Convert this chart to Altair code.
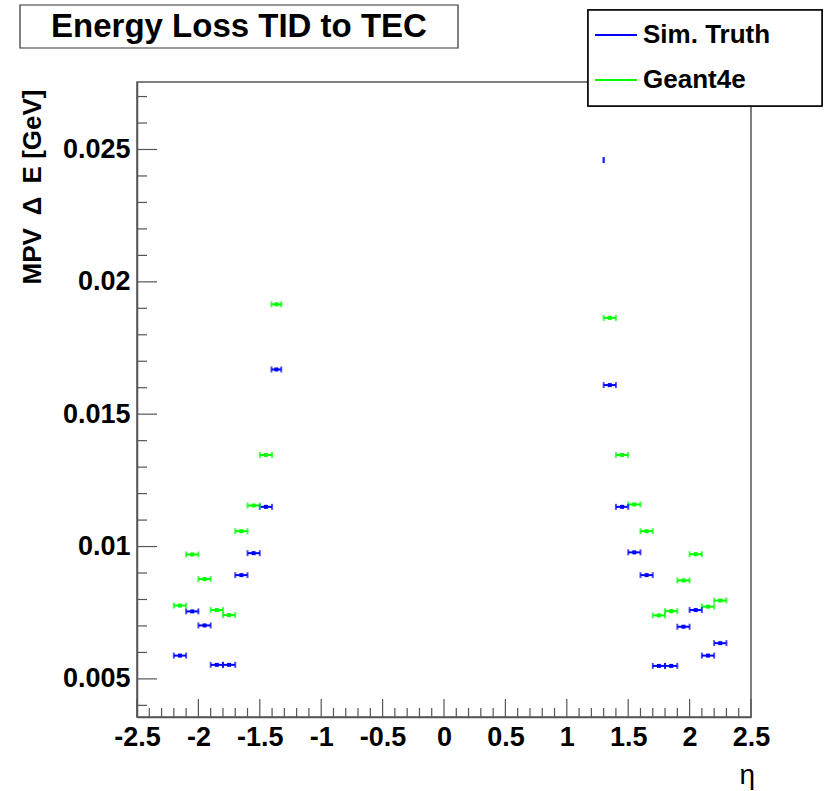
import altair as alt
import pandas as pd
import numpy as np

# ---------------- data ----------------
series_names = ["Sim. Truth", "Geant4e"]
series_colors = ["#0000ff", "#00ff00"]

sim_eta = [-2.15, -2.05, -1.95, -1.85, -1.75, -1.65, -1.55, -1.45, -1.365,
           1.30, 1.35, 1.45, 1.55, 1.65, 1.75, 1.85, 1.95, 2.05, 2.15, 2.25]
sim_xerr = [0.05, 0.05, 0.05, 0.05, 0.05, 0.05, 0.05, 0.05, 0.04,
            0.0, 0.05, 0.05, 0.05, 0.05, 0.05, 0.05, 0.05, 0.05, 0.05, 0.05]
sim_mpv = [0.00588, 0.00755, 0.00702, 0.00553, 0.00553, 0.00892, 0.00975, 0.01150, 0.01669,
           0.02460, 0.01610, 0.01150, 0.00978, 0.00892, 0.00549, 0.00549, 0.00697, 0.00760, 0.00588, 0.00635]

g4e_eta = [-2.15, -2.05, -1.95, -1.85, -1.75, -1.65, -1.55, -1.45, -1.365,
           1.35, 1.45, 1.55, 1.65, 1.75, 1.85, 1.95, 2.05, 2.15, 2.25]
g4e_xerr = [0.05, 0.05, 0.05, 0.05, 0.05, 0.05, 0.05, 0.05, 0.04,
            0.05, 0.05, 0.05, 0.05, 0.05, 0.05, 0.05, 0.05, 0.05, 0.05]
g4e_mpv = [0.00777, 0.00970, 0.00877, 0.00760, 0.00741, 0.01058, 0.01155, 0.01346, 0.01915,
           0.01864, 0.01346, 0.01159, 0.01058, 0.00740, 0.00756, 0.00872, 0.00971, 0.00773, 0.00796]

x_tick_values = [-2.5, -2, -1.5, -1, -0.5, 0, 0.5, 1, 1.5, 2, 2.5]
y_tick_values = [0.005, 0.01, 0.015, 0.02, 0.025]

title_text = "Energy Loss TID to TEC"
y_title_text = "MPV\u2002\u0394\u2002E [GeV]"
x_title_text = "\u03b7"

# ---------------- layout ----------------
W, H = 614, 635
FONT = "Liberation Sans"
FRAME = "#555555"

df = pd.concat([
    pd.DataFrame({"eta": sim_eta, "xerr": sim_xerr, "mpv": sim_mpv, "series": series_names[0]}),
    pd.DataFrame({"eta": g4e_eta, "xerr": g4e_xerr, "mpv": g4e_mpv, "series": series_names[1]}),
], ignore_index=True)

xscale = alt.Scale(domain=[-2.5, 2.5], nice=False, zero=False)
yscale = alt.Scale(domain=[0.00356, 0.02755], nice=False, zero=False)
cscale = alt.Scale(domain=series_names, range=series_colors)

x_axis = alt.Axis(values=x_tick_values, labelExpr="toString(datum.value)", title=None,
                  tickSize=0, labelPadding=7, labelFont=FONT, labelFontSize=27,
                  labelFontWeight="bold", labelColor="black", domainColor=FRAME,
                  domainWidth=1.5, grid=False, labelFlush=False)
y_axis = alt.Axis(values=y_tick_values, labelExpr="toString(datum.value)", title=None,
                  tickSize=0, labelPadding=7, labelFont=FONT, labelFontSize=27,
                  labelFontWeight="bold", labelColor="black", domainColor=FRAME,
                  domainWidth=1.5, grid=False, labelFlush=False)

base = alt.Chart(df).transform_calculate(
    lo="datum.eta - datum.xerr", hi="datum.eta + datum.xerr"
)
color = alt.Color("series:N", scale=cscale, legend=None)

bars = base.mark_rule(strokeWidth=2).encode(
    x=alt.X("lo:Q", scale=xscale, axis=x_axis),
    x2="hi:Q",
    y=alt.Y("mpv:Q", scale=yscale, axis=y_axis),
    color=color,
)
cap_lo = base.mark_tick(orient="vertical", size=6, thickness=2).encode(
    x=alt.X("lo:Q", scale=xscale, axis=x_axis),
    y=alt.Y("mpv:Q", scale=yscale, axis=y_axis),
    color=color,
)
cap_hi = base.mark_tick(orient="vertical", size=6, thickness=2).encode(
    x=alt.X("hi:Q", scale=xscale, axis=x_axis),
    y=alt.Y("mpv:Q", scale=yscale, axis=y_axis),
    color=color,
)
markers = base.transform_filter("datum.xerr > 0").mark_square(size=16, opacity=1).encode(
    x=alt.X("eta:Q", scale=xscale, axis=x_axis),
    y=alt.Y("mpv:Q", scale=yscale, axis=y_axis),
    color=color,
)

# inward ticks (ROOT style)
x_minor = [v for v in np.round(np.arange(-2.4, 2.45, 0.1), 1) if abs(v * 2 - round(v * 2)) > 1e-6]
y_minor = [v for v in np.round(np.arange(0.004, 0.0275, 0.001), 3) if abs(v / 0.005 - round(v / 0.005)) > 1e-6]

xt_major = alt.Chart(pd.DataFrame({"v": x_tick_values})).mark_rule(color=FRAME, strokeWidth=1.2).encode(
    x=alt.X("v:Q", scale=xscale, axis=x_axis), y=alt.value(H), y2=alt.value(H - 18))
xt_minor = alt.Chart(pd.DataFrame({"v": x_minor})).mark_rule(color=FRAME, strokeWidth=1.2).encode(
    x=alt.X("v:Q", scale=xscale, axis=x_axis), y=alt.value(H), y2=alt.value(H - 9))
yt_major = alt.Chart(pd.DataFrame({"v": y_tick_values})).mark_rule(color=FRAME, strokeWidth=1.2).encode(
    y=alt.Y("v:Q", scale=yscale, axis=y_axis), x=alt.value(0), x2=alt.value(20))
yt_minor = alt.Chart(pd.DataFrame({"v": y_minor})).mark_rule(color=FRAME, strokeWidth=1.2).encode(
    y=alt.Y("v:Q", scale=yscale, axis=y_axis), x=alt.value(0), x2=alt.value(10))

# title box
tdf = pd.DataFrame({"t": [title_text]})
title_box = alt.Chart(tdf).mark_rect(fill="white", stroke="#333333", strokeWidth=1.2).encode(
    x=alt.value(-117), x2=alt.value(321), y=alt.value(-77), y2=alt.value(-34))
title_txt = alt.Chart(tdf).mark_text(font=FONT, fontSize=33, fontWeight="bold", color="black",
                                     align="center", baseline="middle").encode(
    text="t:N", x=alt.value(102), y=alt.value(-55))

# axis titles
ytitle = alt.Chart(pd.DataFrame({"t": [y_title_text]})).mark_text(
    font=FONT, fontSize=26, fontWeight="bold", color="black", angle=270,
    align="center", baseline="middle").encode(text="t:N", x=alt.value(-104), y=alt.value(105))
xtitle = alt.Chart(pd.DataFrame({"t": [x_title_text]})).mark_text(
    font=FONT, fontSize=28, color="black", align="right", baseline="middle").encode(
    text="t:N", x=alt.value(618), y=alt.value(694))

# legend box
ldf = pd.DataFrame({"series": series_names})
leg_box = alt.Chart(ldf).mark_rect(fill="white", stroke="black", strokeWidth=1.5).encode(
    x=alt.value(451), x2=alt.value(685), y=alt.value(-72), y2=alt.value(24))
leg_layers = [leg_box]
for i, (name, col) in enumerate(zip(series_names, series_colors)):
    yy = -47 + 45 * i
    one = pd.DataFrame({"series": [name]})
    leg_layers.append(alt.Chart(one).mark_rule(color=col, strokeWidth=2).encode(
        x=alt.value(458), x2=alt.value(500), y=alt.value(yy)))
    leg_layers.append(alt.Chart(one).mark_text(font=FONT, fontSize=26, fontWeight="bold",
                                               color="black", align="left", baseline="middle").encode(
        text="series:N", x=alt.value(506), y=alt.value(yy)))

chart = alt.layer(
    xt_major, xt_minor, yt_major, yt_minor,
    bars, cap_lo, cap_hi, markers,
    title_box, title_txt, ytitle, xtitle, *leg_layers,
).properties(
    width=W, height=H,
    autosize=alt.AutoSizeParams(type="none"),
    padding={"left": 137, "top": 82, "right": 74, "bottom": 74},
    background="white",
).configure_view(stroke=FRAME, strokeWidth=1.5)

chart.save("out.html", embed_options={"renderer": "svg", "actions": False})
